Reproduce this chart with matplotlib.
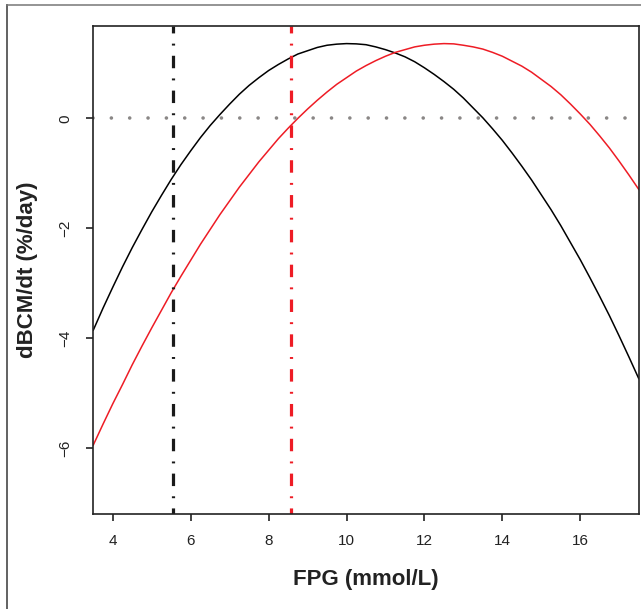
import matplotlib
matplotlib.use("Agg")
import matplotlib.pyplot as plt
from matplotlib.lines import Line2D

plt.rcParams['font.family'] = ['Liberation Sans', 'DejaVu Sans']

# FPG grid (mmol/L) and estimated dBCM/dt curves (%/day)
fpg = [3.5, 3.75, 4.0, 4.25, 4.5, 4.75, 5.0, 5.25, 5.5, 5.75, 6.0, 6.25,
       6.5, 6.75, 7.0, 7.25, 7.5, 7.75, 8.0, 8.25, 8.5, 8.75, 9.0, 9.25,
       9.5, 9.75, 10.0, 10.25, 10.5, 10.75, 11.0, 11.25, 11.5, 11.75, 12.0,
       12.25, 12.5, 12.75, 13.0, 13.25, 13.5, 13.75, 14.0, 14.25, 14.5,
       14.75, 15.0, 15.25, 15.5, 15.75, 16.0, 16.25, 16.5, 16.75, 17.0,
       17.25, 17.5]
black_curve = [-3.85, -3.45, -3.07, -2.70, -2.35, -2.02, -1.70, -1.40, -1.11,
               -0.84, -0.59, -0.35, -0.13, 0.07, 0.26, 0.44, 0.60, 0.74,
               0.87, 0.98, 1.08, 1.17, 1.23, 1.29, 1.33, 1.35, 1.36, 1.355,
               1.34, 1.30, 1.25, 1.19, 1.12, 1.03, 0.92, 0.80, 0.67, 0.53,
               0.37, 0.19, 0.01, -0.19, -0.40, -0.63, -0.87, -1.12, -1.39,
               -1.66, -1.95, -2.26, -2.57, -2.90, -3.24, -3.59, -3.96, -4.34,
               -4.73]
red_curve = [-5.94, -5.56, -5.19, -4.84, -4.48, -4.14, -3.81, -3.49, -3.17,
             -2.87, -2.58, -2.29, -2.02, -1.75, -1.50, -1.25, -1.02, -0.79,
             -0.58, -0.37, -0.18, 0.00, 0.17, 0.33, 0.48, 0.62, 0.74, 0.86,
             0.96, 1.05, 1.13, 1.20, 1.25, 1.30, 1.33, 1.35, 1.36, 1.355,
             1.33, 1.30, 1.26, 1.20, 1.13, 1.04, 0.95, 0.84, 0.71, 0.58,
             0.43, 0.26, 0.08, -0.11, -0.32, -0.54, -0.78, -1.03, -1.29]

# vertical reference lines (FPG thresholds)
black_vline = 5.55
red_vline = 8.57

xticks = [4, 6, 8, 10, 12, 14, 16]
yticks = [0, -2, -4, -6]
ytick_labels = ['0', '\u22122', '\u22124', '\u22126']

W, H = 641, 609
fig = plt.figure(figsize=(W / 100, H / 100), dpi=100)
ax = fig.add_axes([93.3 / W, 1 - 514.3 / H, (638.7 - 93.3) / W, (514.3 - 26) / H])

red = '#ee1c25'

ax.plot(fpg, black_curve, color='black', lw=1.1)
ax.plot(fpg, red_curve, color=red, lw=1.1)

ax.axhline(0, color='#8a8786', lw=2.6, linestyle=(0, (0.01, 5.07)),
           dash_capstyle='round')
ax.axvline(black_vline, color='#1a1a1a', lw=2.3,
           linestyle=(2, (3.9, 3.2, 0.6, 3.2)))
ax.axvline(red_vline, color=red, lw=2.3,
           linestyle=(2, (3.9, 3.2, 0.6, 3.2)))

ax.set_xlim(3.5, 17.5)
ax.set_ylim(-7.2, 1.68)
ax.set_xticks(xticks)
ax.set_xticklabels([str(v) for v in xticks], fontsize=11, color='#222222')
ax.set_yticks(yticks)
ax.set_yticklabels(ytick_labels, fontsize=11, rotation=90, va='center',
                   color='#222222')
ax.tick_params(axis='x', length=5, width=1.2, pad=9.5, color='#222222')
ax.tick_params(axis='y', length=5, width=1.2, pad=10, color='#222222')
for s in ax.spines.values():
    s.set_linewidth(1.2)
    s.set_color('#222222')

fig.text(366 / W, 1 - 580 / H, 'FPG (mmol/L)', fontsize=16, fontweight='bold',
         ha='center', va='center', color='#222222')
fig.text(28 / W, 1 - 270 / H, 'dBCM/dt (%/day)', fontsize=16,
         fontweight='bold', rotation=90, ha='center', va='center',
         color='#222222')

# outer frame (left and top edges)
fig.add_artist(Line2D([6.5 / W, 6.5 / W], [0, 1 - 5 / H], color='#555555',
                      lw=1.3, transform=fig.transFigure))
fig.add_artist(Line2D([6.5 / W, 1], [1 - 5 / H, 1 - 5 / H], color='#777777',
                      lw=1.1, transform=fig.transFigure))

fig.savefig('out.png', dpi=100)
